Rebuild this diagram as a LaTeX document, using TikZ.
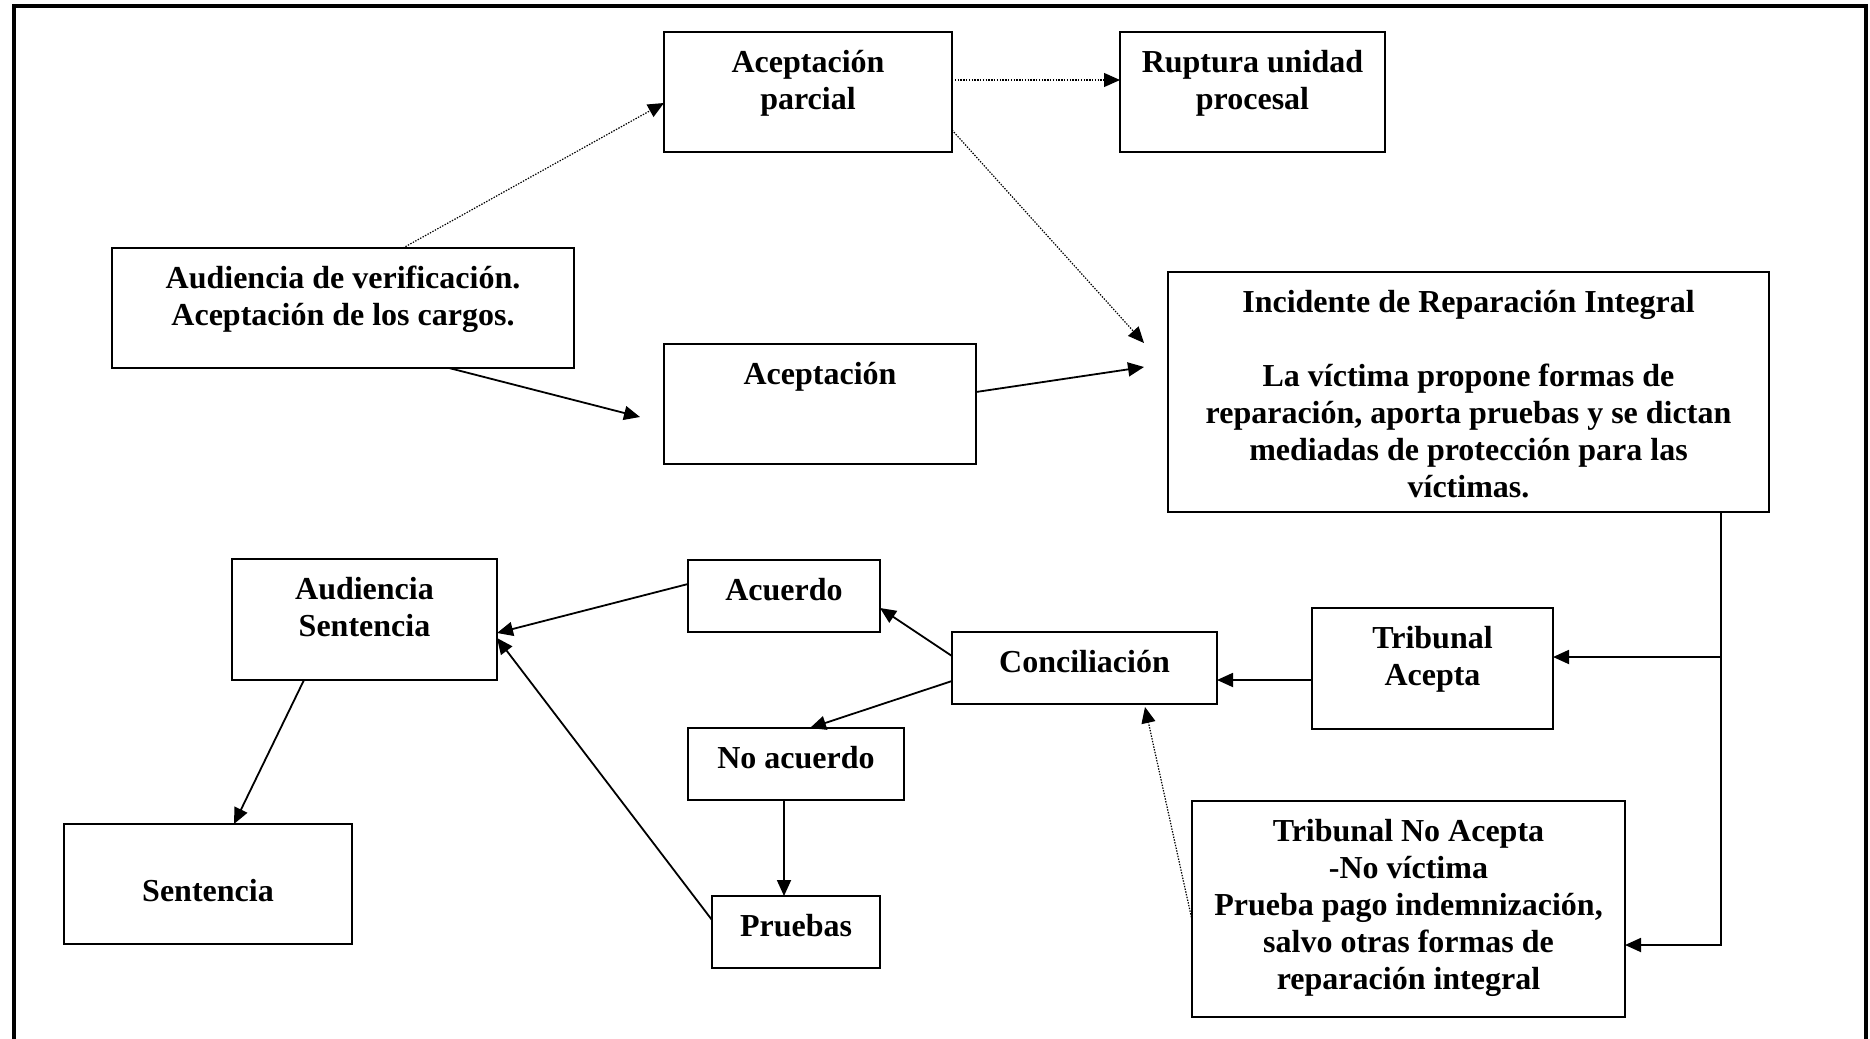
\documentclass[tikz,border=0pt]{standalone}
\usepackage{fontspec}
\setmainfont{Liberation Serif}
\usetikzlibrary{arrows.meta}
\newcommand\boxtext[3]{\parbox[t][#2][t]{#1}{\centering\rule{0pt}{20pt}#3}}
\begin{document}
\begin{tikzpicture}[x=0.5pt,y=-0.5pt,
 box/.style={draw, line width=1pt, inner sep=0pt, outer sep=0pt, anchor=north west, font=\bfseries\fontsize{16}{18.5}\selectfont},
 arr/.style={line width=0.9pt, -{Triangle[length=8pt,width=7pt]}},
 dotarr/.style={line width=0.6pt, dash pattern=on 0.7pt off 0.7pt, -{Triangle[length=8pt,width=7pt]}}]
\useasboundingbox (0,0) rectangle (1870,1039);
\draw[line width=2pt] (14,1039) -- (14,6) -- (1866,6) -- (1866,1039);

\node[box] (ap) at (664,32) {\boxtext{144pt}{60pt}{Aceptación\\parcial}};
\node[box] (rup) at (1120,32) {\boxtext{132.5pt}{60pt}{Ruptura unidad\\procesal}};
\node[box] (avc) at (112,248) {\boxtext{231pt}{60pt}{Audiencia de verificación.\\Aceptación de los cargos.}};
\node[box] (acep) at (664,344) {\boxtext{156pt}{60pt}{Aceptación}};
\node[box] (inc) at (1168,272) {\boxtext{300.5pt}{120pt}{Incidente de Reparación Integral\\[18.5pt]La víctima propone formas de\\reparación, aporta pruebas y se dictan\\mediadas de protección para las\\víctimas.}};
\node[box] (as) at (232,559) {\boxtext{132.5pt}{60.5pt}{Audiencia\\Sentencia}};
\node[box] (sen) at (64,824) {\boxtext{144pt}{60pt}{\mbox{}\\Sentencia}};
\node[box] (acu) at (688,560) {\boxtext{96pt}{36pt}{Acuerdo}};
\node[box] (con) at (952,632) {\boxtext{132.5pt}{36pt}{Conciliación}};
\node[box] (noa) at (688,728) {\boxtext{108pt}{36pt}{No acuerdo}};
\node[box] (pru) at (712,896) {\boxtext{84pt}{36pt}{Pruebas}};
\node[box] (ta) at (1312,608) {\boxtext{120.5pt}{60.5pt}{Tribunal\\Acepta}};
\node[box] (tna) at (1192,801) {\boxtext{216.5pt}{108pt}{Tribunal No Acepta\\-No víctima\\Prueba pago indemnización,\\salvo otras formas de\\reparación integral}};

\draw[dotarr] ([xshift=145.5pt]avc.north west) -- ([yshift=-35.5pt]ap.north west);
\draw[dotarr] ([yshift=-24pt]ap.north east) -- ([yshift=-24pt]rup.north west);
\draw[dotarr] ([yshift=-49pt]ap.north east) -- ([xshift=-12pt,yshift=-35.5pt]inc.north west);
\draw[arr] ([xshift=168.5pt]avc.south west) -- ([xshift=-12pt,yshift=-36.5pt]acep.north west);
\draw[arr] ([yshift=-24pt]acep.north east) -- ([xshift=-12pt,yshift=-47.5pt]inc.north west);
\coordinate (trunk) at ([xshift=-24pt]inc.south east);
\coordinate (taIn) at ([yshift=-24.5pt]ta.north east);
\coordinate (tnaIn) at ([yshift=-72pt]tna.north east);
\draw[arr] (trunk) |- (tnaIn);
\draw[arr] (trunk |- taIn) -- (taIn);
\coordinate (taOut) at ([yshift=-36pt]ta.north west);
\draw[arr] (taOut) -- (taOut -| con.east);
\draw[arr] ([yshift=-12pt]con.north west) -- ([yshift=-24pt]acu.north east);
\draw[arr] ([yshift=-24.5pt]con.north west) -- ([xshift=61pt]noa.north west);
\draw[arr] ([xshift=48pt]noa.south west) -- ([xshift=36pt]pru.north west);
\draw[arr] ([yshift=-12pt]acu.north west) -- ([yshift=-37pt]as.north east);
\draw[arr] ([yshift=-12pt]pru.north west) -- ([yshift=-39.5pt]as.north east);
\draw[arr] ([xshift=36pt]as.south west) -- ([xshift=85pt]sen.north west);
\draw[dotarr] ([yshift=-59.5pt]tna.north west) -- ([xshift=96.5pt,yshift=-1.5pt]con.south west);
\end{tikzpicture}
\end{document}
